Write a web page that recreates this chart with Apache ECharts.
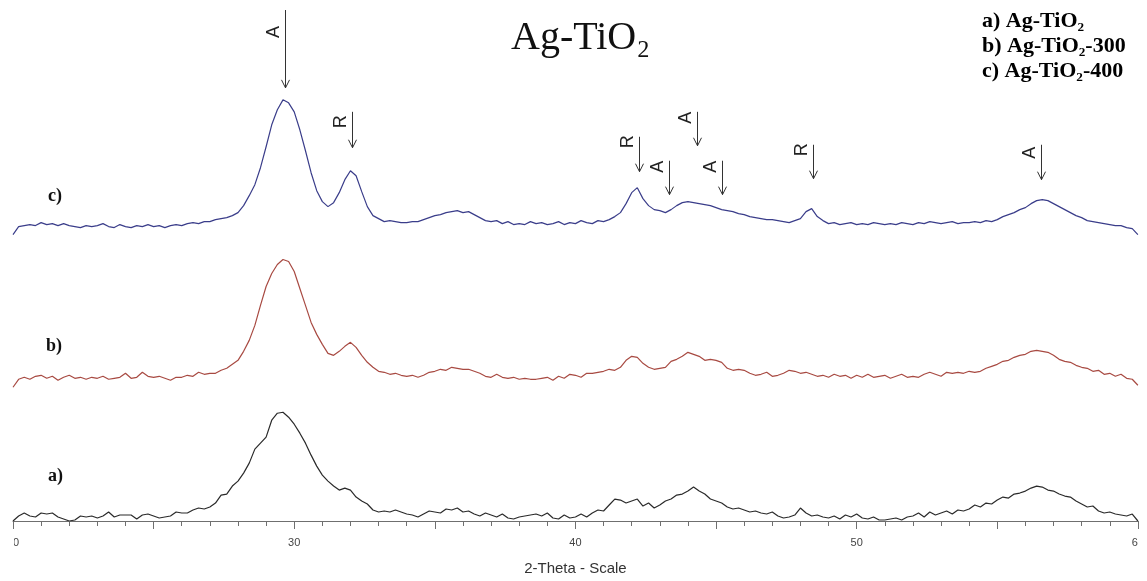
<!DOCTYPE html>
<html><head><meta charset="utf-8">
<script src="https://cdn.jsdelivr.net/npm/echarts@6/dist/echarts.min.js"></script>
<style>html,body{margin:0;padding:0;background:#fff}#c{width:1147px;height:581px}</style>
</head><body><div id="c"></div>
<script>
// 2-theta sampling: start 20, step 0.2 (201 points to 60)
const THETA_START = 20;
const THETA_STEP = 0.2;

// a) Ag-TiO2 (intensity, arbitrary units)
const seriesA = [
  0,5,8,5,4,8,7,8,4,2,
  0,1,5,4,5,3,5,9,4,6,
  6,6,2,6,7,5,3,4,5,9,
  8,8,11,13,12,14,18,26,27,35,
  40,48,58,72,78,84,101,108,109,104,
  97,88,78,66,55,46,40,35,31,33,
  31,24,20,17,11,9,10,9,11,9,
  7,6,4,7,10,9,8,12,11,13,
  9,10,7,5,8,6,4,7,3,2,
  4,5,6,7,5,8,3,2,6,3,
  4,7,4,8,11,10,16,22,21,18,
  20,22,15,18,13,16,20,22,26,27,
  30,34,30,27,22,20,18,14,12,13,
  11,9,10,8,7,9,5,3,4,6,
  13,8,5,6,4,3,5,2,6,4,
  7,3,2,4,1,1,2,3,1,4,
  5,8,4,9,6,8,10,7,11,10,
  12,16,14,18,17,21,24,23,27,28,
  30,33,35,34,31,30,27,25,24,20,
  17,14,15,10,8,9,7,6,5,7,
  0
];

// b) Ag-TiO2-300
const seriesB = [
  -6,2,4,2,5,6,3,5,1,4,
  6,3,4,2,4,3,5,2,3,4,
  8,3,4,9,5,4,5,3,1,4,
  4,6,5,9,7,8,8,11,13,17,
  21,30,41,56,76,95,108,117,122,120,
  110,93,76,59,47,37,28,26,30,35,
  39,34,26,19,14,10,9,7,8,6,
  5,6,4,6,9,10,12,11,14,13,
  12,12,10,8,5,4,7,4,3,4,
  2,3,2,2,3,4,1,5,3,7,
  6,4,8,8,9,10,12,11,14,21,
  25,24,18,14,12,13,14,20,22,25,
  29,27,25,21,22,21,19,13,11,12,
  11,8,6,7,9,5,6,8,11,10,
  8,9,7,5,6,4,7,5,6,3,
  6,4,7,4,5,6,3,5,7,4,
  5,4,7,9,7,5,9,8,9,8,
  10,9,10,13,15,17,20,21,24,26,
  27,30,31,30,29,26,22,20,19,16,
  14,13,10,11,7,8,5,7,3,2,
  -4
];

// c) Ag-TiO2-400
const seriesC = [
  -5,3,4,5,4,7,5,6,4,6,
  4,3,2,4,3,4,6,3,2,5,
  3,2,4,3,5,3,4,2,4,5,
  4,6,7,6,8,8,10,11,12,14,
  17,24,34,45,62,83,105,120,130,127,
  118,100,79,57,39,28,23,27,37,50,
  59,54,38,23,14,11,8,9,8,7,
  7,8,8,10,12,14,15,17,18,19,
  17,18,15,12,9,8,9,6,8,5,
  6,5,8,6,7,5,6,8,5,7,
  6,9,7,6,9,8,10,13,17,26,
  37,42,31,24,20,19,17,20,24,27,
  28,27,26,25,24,22,20,19,18,16,
  15,13,12,11,10,10,9,8,7,9,
  11,18,21,13,9,6,7,5,6,7,
  5,6,5,7,6,5,6,5,7,6,
  5,7,6,8,7,6,7,8,6,7,
  7,8,7,9,8,10,13,15,17,20,
  22,26,29,30,29,26,23,20,17,14,
  12,9,8,7,6,5,4,4,2,1,
  -5
];

// vertical stacking offsets of the patterns
const OFFSET_A = 0;
const OFFSET_B = 140;
const OFFSET_C = 292;

const seriesNames = ['a) Ag-TiO\u2082', 'b) Ag-TiO\u2082-300', 'c) Ag-TiO\u2082-400'];
const seriesColors = ['#2a2a2a', '#a84a42', '#3a3d8a'];

// phase markers (A = anatase, R = rutile)
const peakTheta = [29.67, 32.06, 42.26, 43.33, 44.32, 45.21, 48.45, 56.56];
const peakPhase = ['A', 'R', 'R', 'A', 'A', 'A', 'R', 'A'];
const arrowTip  = [434, 374, 350, 327, 376, 327, 343, 342];
const arrowTop  = [512, 410, 385, 361, 410, 361, 377, 377];
const letterAt  = [490, 400, 380, 355, 404, 355, 372, 369];

const X_MIN = 20, X_MAX = 60;

function toPoints(arr, off) {
  return arr.map((v, i) => [+(THETA_START + i * THETA_STEP).toFixed(1), v + off]);
}

const chart = echarts.init(document.getElementById('c'));
chart.setOption({
  animation: false,
  backgroundColor: '#fff',
  title: {
    text: 'Ag-TiO\u2082',
    left: 506, top: 13,
    textStyle: { fontFamily: '"Liberation Serif", "Times New Roman", serif', fontSize: 40, fontWeight: 'normal', color: '#111' }
  },
  legend: {
    orient: 'vertical', left: 972, top: 5,
    icon: 'none', itemWidth: 0, itemHeight: 22, itemGap: 3,
    selectedMode: false,
    data: seriesNames,
    textStyle: { fontFamily: '"Liberation Serif", "Times New Roman", serif', fontWeight: 'bold', fontSize: 22, color: '#000' }
  },
  grid: { left: 13, right: 9, top: 22, bottom: 59 },
  xAxis: {
    type: 'value', min: X_MIN, max: X_MAX, interval: 5,
    name: '2-Theta - Scale', nameLocation: 'middle', nameGap: 40,
    nameTextStyle: { fontFamily: '"Liberation Sans", Arial, sans-serif', fontSize: 15, color: '#333' },
    axisLine: { lineStyle: { color: '#6f6f6f', width: 1 } },
    axisTick: { length: 8, lineStyle: { color: '#6f6f6f' } },
    minorTick: { show: true, splitNumber: 5, length: 5, lineStyle: { color: '#6f6f6f' } },
    splitLine: { show: false },
    minorSplitLine: { show: false },
    axisLabel: {
      formatter: v => (v % 10 === 0 ? String(v) : ''),
      color: '#444', fontSize: 11, margin: 16,
      fontFamily: '"Liberation Sans", Arial, sans-serif'
    }
  },
  yAxis: { type: 'value', min: 0, max: 500, show: false },
  series: [
    { name: seriesNames[0], type: 'line', data: toPoints(seriesA, OFFSET_A), showSymbol: false, color: seriesColors[0], lineStyle: { width: 1.2 } },
    { name: seriesNames[1], type: 'line', data: toPoints(seriesB, OFFSET_B), showSymbol: false, color: seriesColors[1], lineStyle: { width: 1.2 } },
    { name: seriesNames[2], type: 'line', data: toPoints(seriesC, OFFSET_C), showSymbol: false, color: seriesColors[2], lineStyle: { width: 1.2 } },
    {
      type: 'custom', clip: false, silent: true,
      data: peakTheta.map((t, i) => [t, arrowTip[i], arrowTop[i], letterAt[i]]),
      renderItem: function (params, api) {
        const th = api.value(0);
        const pTip = api.coord([th, api.value(1)]);
        const pTop = api.coord([th, api.value(2)]);
        const pL = api.coord([th, api.value(3)]);
        const x = Math.round(pTip[0]) + 0.5;
        return {
          type: 'group',
          children: [
            { type: 'line', shape: { x1: x, y1: pTop[1], x2: x, y2: pTip[1] }, style: { stroke: '#333', lineWidth: 1 } },
            { type: 'polyline', shape: { points: [[x - 4, pTip[1] - 8], [x, pTip[1]], [x + 4, pTip[1] - 8]] }, style: { stroke: '#333', fill: null, lineWidth: 1 } },
            { type: 'text', x: x - 11, y: pL[1], rotation: Math.PI / 2,
              style: { text: peakPhase[params.dataIndex], font: '18px "Liberation Sans", Arial, sans-serif', fill: '#222', align: 'center', verticalAlign: 'middle' } }
          ]
        };
      }
    }
  ],
  graphic: [
    { type: 'text', left: 48, top: 187, style: { text: 'c)', font: 'bold 18px "Liberation Serif", serif', fill: '#111' } },
    { type: 'text', left: 46, top: 337, style: { text: 'b)', font: 'bold 18px "Liberation Serif", serif', fill: '#111' } },
    { type: 'text', left: 48, top: 467, style: { text: 'a)', font: 'bold 18px "Liberation Serif", serif', fill: '#111' } },
    { type: 'rect', z: 100, shape: { x: 0, y: 530, width: 14, height: 26 }, style: { fill: '#fff' } },
    { type: 'rect', z: 100, shape: { x: 1138, y: 530, width: 9, height: 26 }, style: { fill: '#fff' } }
  ]
});
</script>
</body></html>
